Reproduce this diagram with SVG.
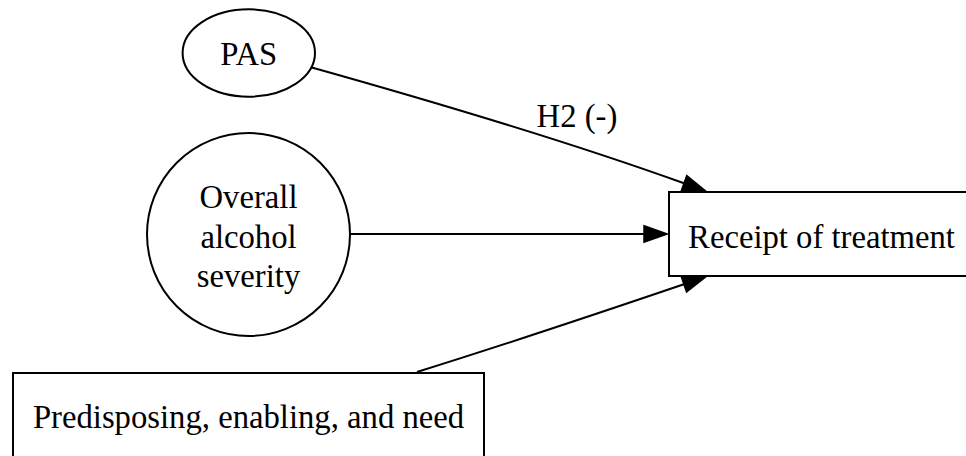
<svg xmlns="http://www.w3.org/2000/svg" width="966" height="456" viewBox="0 0 966 456">
<style>
.shape{fill:#fff;stroke:#000;stroke-width:2}
.edge{fill:none;stroke:#000;stroke-width:2}
text{font-family:"Liberation Serif","Times New Roman",serif;font-size:32.7px;fill:#000;text-anchor:middle}
</style>
<defs>
<marker id="arr" markerUnits="userSpaceOnUse" markerWidth="26" markerHeight="20" refX="0" refY="0" viewBox="0 -10 26 20" orient="auto" overflow="visible">
<path d="M0,-8.2 L23.3,0 L0,8.2 z" fill="#000" stroke="#000" stroke-width="1.5"/>
</marker>
</defs>
<rect width="966" height="456" fill="#fff"/>
<g id="edges">
<path class="edge" d="M310,67 C435,102 560,138.7 684,183.3" marker-end="url(#arr)"/>
<text x="577" y="127">H2 (-)</text>
<path class="edge" d="M350,234 L644,234" marker-end="url(#arr)"/>
<path class="edge" d="M417,372 C507,344 600,312.8 683.9,284.3" marker-end="url(#arr)"/>
</g>
<g id="pas">
<ellipse class="shape" cx="248.8" cy="53" rx="66.2" ry="43.7"/>
<text x="248.8" y="65">PAS</text>
</g>
<g id="severity">
<circle class="shape" cx="248.5" cy="234.5" r="101.5"/>
<text x="248.5" y="208">Overall</text>
<text x="248.5" y="248">alcohol</text>
<text x="248.5" y="287">severity</text>
</g>
<g id="receipt">
<rect class="shape" x="669" y="192" width="310" height="84"/>
<text x="821.5" y="248">Receipt of treatment</text>
</g>
<g id="predisposing">
<rect class="shape" x="13" y="373" width="471" height="90"/>
<text x="248.5" y="428">Predisposing, enabling, and need</text>
</g>
</svg>
